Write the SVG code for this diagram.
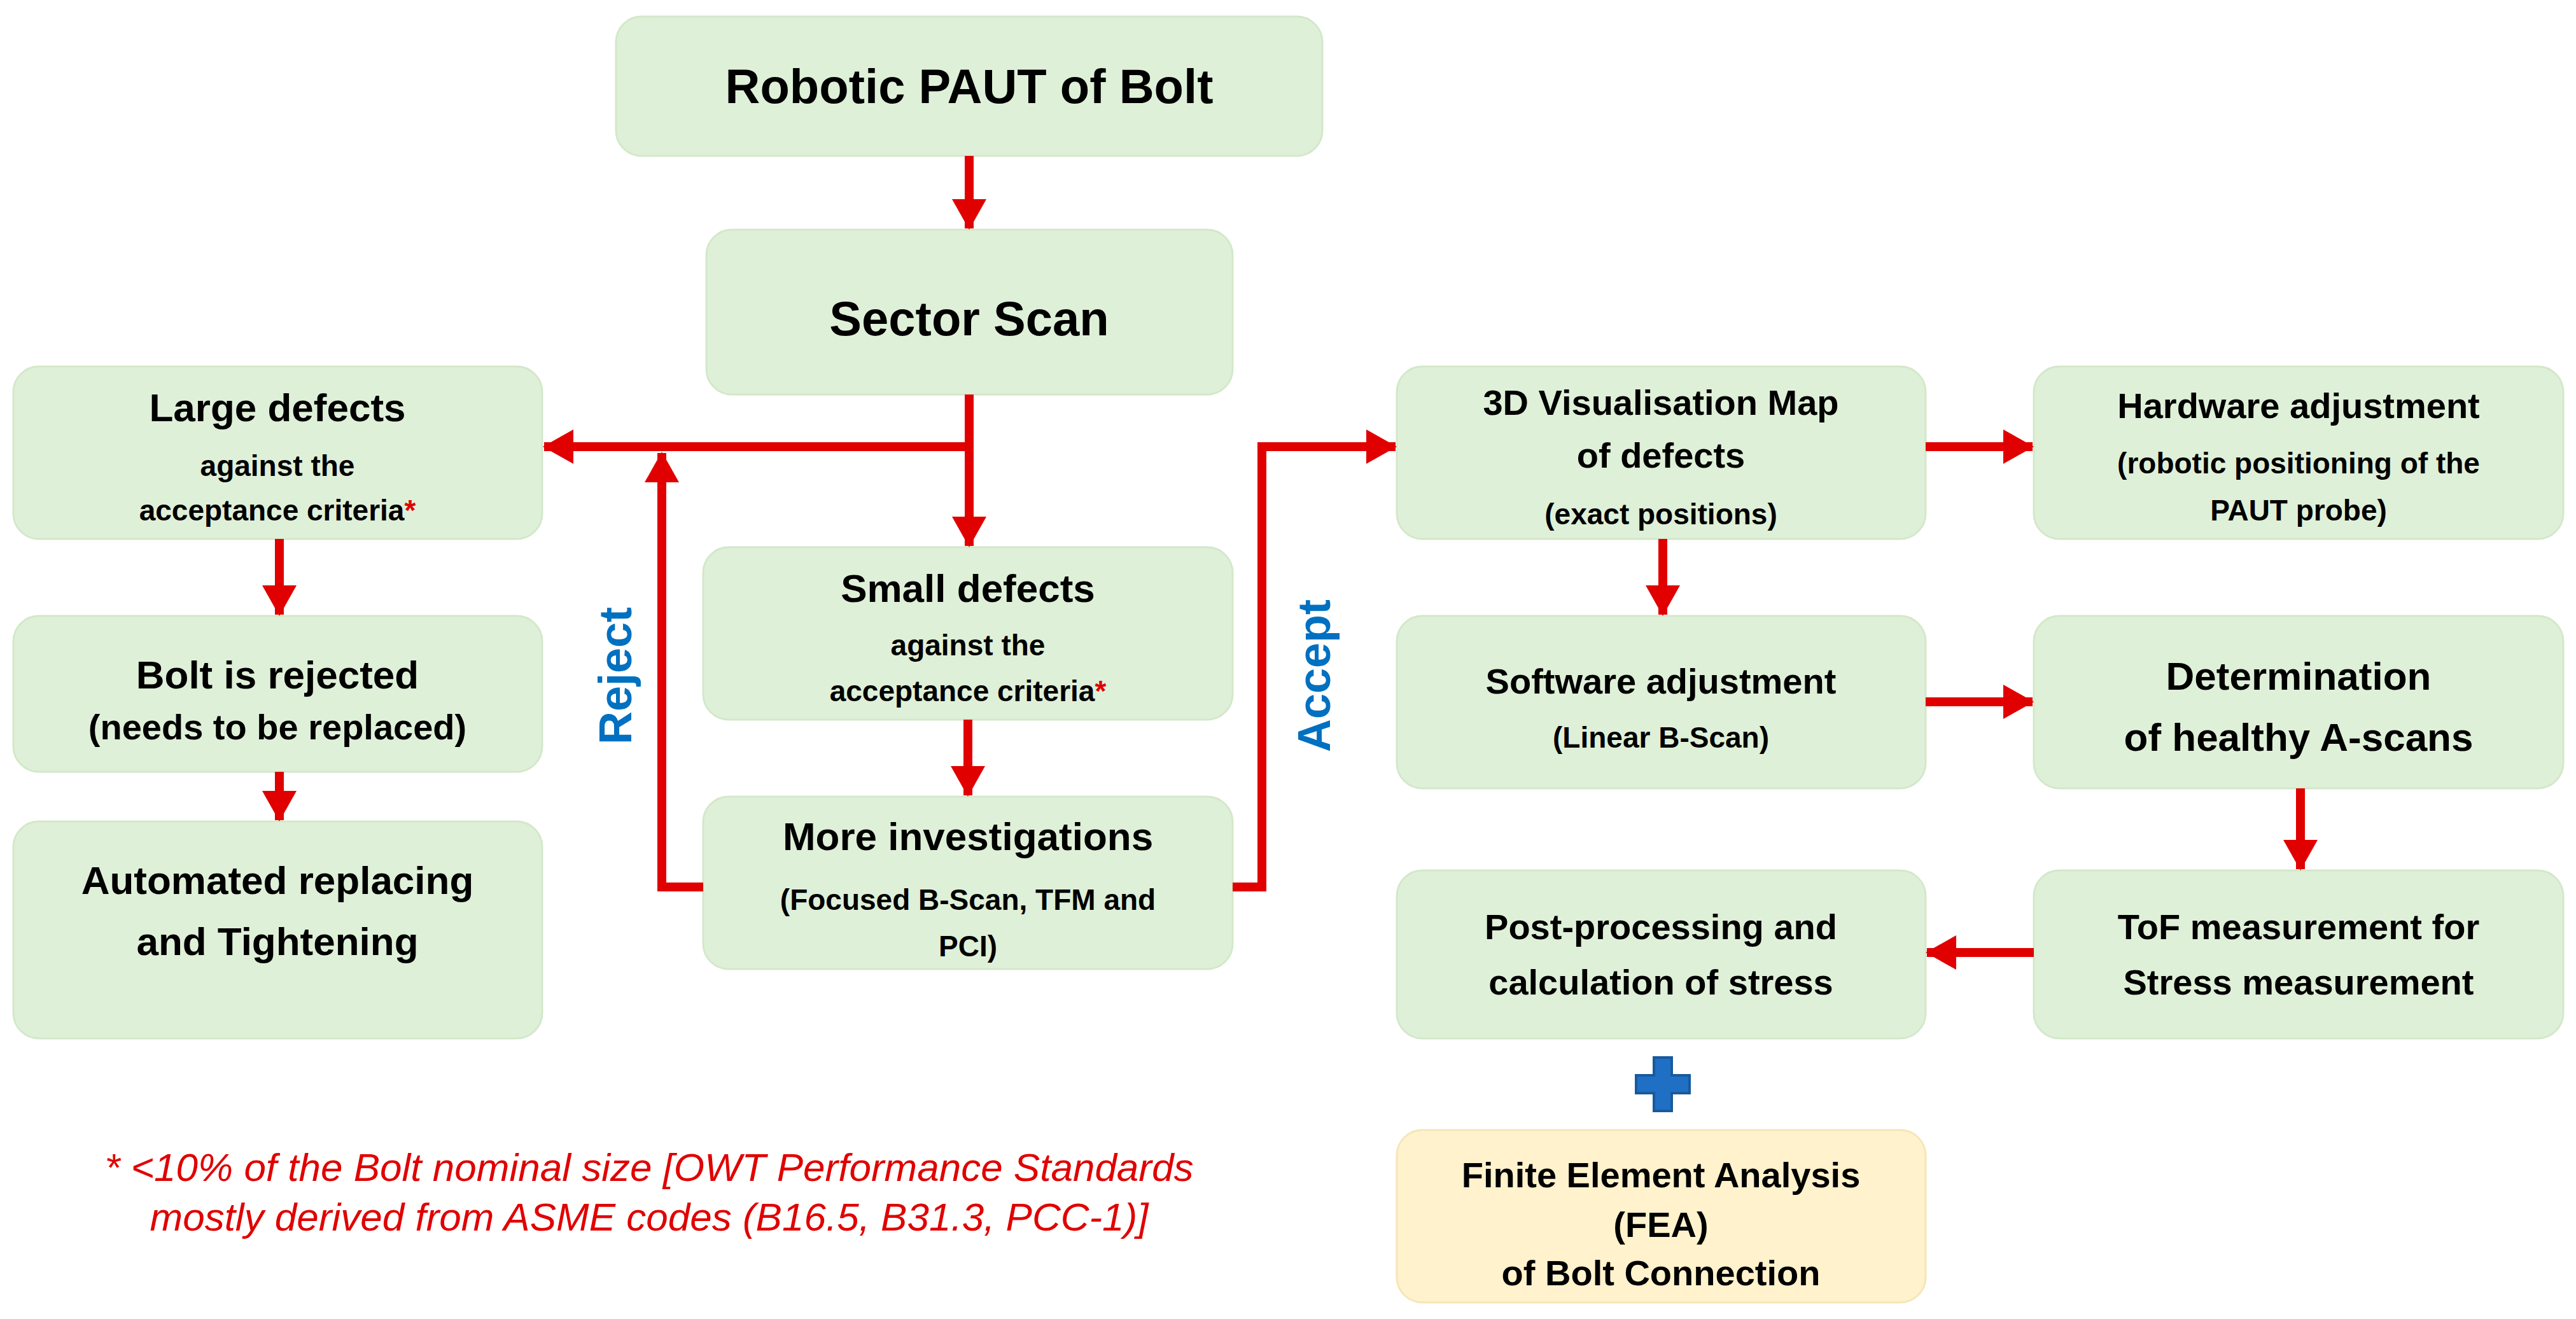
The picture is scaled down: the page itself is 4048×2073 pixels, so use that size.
<svg xmlns="http://www.w3.org/2000/svg" width="4048" height="2073" viewBox="0 0 4048 2073">
<style>
.n{fill:#dff0d8;stroke:#d3e8ca;stroke-width:3}
.f{fill:#fff2cc;stroke:#f5e6b8;stroke-width:3}
text{font-family:"Liberation Sans",Arial,sans-serif;font-weight:bold;fill:#000;text-anchor:middle}
.t{font-size:76px}
.h{font-size:62px}
.s{font-size:46px}
.m{font-size:56px}
.r{fill:#e00000}
.c{stroke:#e00000;stroke-width:14;fill:none}
.lab{fill:#0070c0;font-size:72px}
.fn{font-style:italic;font-weight:normal;fill:#e00000;font-size:62px}
</style>
<defs>
<marker id="a" markerUnits="userSpaceOnUse" markerWidth="48" markerHeight="54" refX="46" refY="27" orient="auto">
<path d="M0,0 L48,27 L0,54 Z" fill="#e00000"/>
</marker>
</defs>
<g id="n1"><rect class="n" x="968" y="26" width="1110" height="219" rx="40"/><text class="t" x="1523" y="162">Robotic PAUT of Bolt</text></g>
<g id="n2"><rect class="n" x="1110" y="361" width="827" height="259" rx="40"/><text class="t" x="1523" y="527">Sector Scan</text></g>
<g id="n3"><rect class="n" x="21" y="576" width="831" height="271" rx="40"/><text class="h" x="436" y="662">Large defects</text><text class="s" x="436" y="748">against the</text><text class="s" x="436" y="818">acceptance criteria<tspan class="r">*</tspan></text></g>
<g id="n4"><rect class="n" x="21" y="968" width="831" height="245" rx="40"/><text class="h" x="436" y="1082">Bolt is rejected</text><text class="m" x="436" y="1162">(needs to be replaced)</text></g>
<g id="n5"><rect class="n" x="21" y="1291" width="831" height="341" rx="40"/><text class="h" x="436" y="1405">Automated replacing</text><text class="h" x="436" y="1501">and Tightening</text></g>
<g id="n6"><rect class="n" x="1105" y="860" width="832" height="271" rx="40"/><text class="h" x="1521" y="946">Small defects</text><text class="s" x="1521" y="1030">against the</text><text class="s" x="1521" y="1102">acceptance criteria<tspan class="r">*</tspan></text></g>
<g id="n7"><rect class="n" x="1105" y="1252" width="832" height="271" rx="40"/><text class="h" x="1521" y="1336">More investigations</text><text class="s" x="1521" y="1430">(Focused B-Scan, TFM and</text><text class="s" x="1521" y="1503">PCI)</text></g>
<g id="n8"><rect class="n" x="2195" y="576" width="831" height="271" rx="40"/><text class="m" x="2610" y="652">3D Visualisation Map</text><text class="m" x="2610" y="735">of defects</text><text class="s" x="2610" y="824">(exact positions)</text></g>
<g id="n9"><rect class="n" x="3196" y="576" width="832" height="271" rx="40"/><text class="m" x="3612" y="657">Hardware adjustment</text><text class="s" x="3612" y="744">(robotic positioning of the</text><text class="s" x="3612" y="818">PAUT probe)</text></g>
<g id="n10"><rect class="n" x="2195" y="968" width="831" height="271" rx="40"/><text class="m" x="2610" y="1090">Software adjustment</text><text class="s" x="2610" y="1175">(Linear B-Scan)</text></g>
<g id="n11"><rect class="n" x="3196" y="968" width="832" height="271" rx="40"/><text class="h" x="3612" y="1084">Determination</text><text class="h" x="3612" y="1180">of healthy A-scans</text></g>
<g id="n12"><rect class="n" x="2195" y="1368" width="831" height="264" rx="40"/><text class="m" x="2610" y="1476">Post-processing and</text><text class="m" x="2610" y="1563">calculation of stress</text></g>
<g id="n13"><rect class="n" x="3196" y="1368" width="832" height="264" rx="40"/><text class="m" x="3612" y="1476">ToF measurement for</text><text class="m" x="3612" y="1563">Stress measurement</text></g>
<g id="n14"><rect class="f" x="2195" y="1776" width="831" height="271" rx="40"/><text class="m" x="2610" y="1866">Finite Element Analysis</text><text class="m" x="2610" y="1944">(FEA)</text><text class="m" x="2610" y="2020">of Bolt Connection</text></g>
<g id="plus"><path d="M2599,1662 h28 v28 h28 v28 h-28 v28 h-28 v-28 h-28 v-28 h28 Z" fill="#1f6fc5" stroke="#175a9e" stroke-width="4"/></g>
<g id="connectors">
<path class="c" d="M1523,245 V359" marker-end="url(#a)"/>
<path class="c" d="M1523,620 V858" marker-end="url(#a)"/>
<path class="c" d="M1523,702 H855" marker-end="url(#a)"/>
<path class="c" d="M1105,1394 H1040 V712" marker-end="url(#a)"/>
<path class="c" d="M1937,1394 H1983 V702 H2193" marker-end="url(#a)"/>
<path class="c" d="M1521,1131 V1250" marker-end="url(#a)"/>
<path class="c" d="M439,847 V966" marker-end="url(#a)"/>
<path class="c" d="M439,1213 V1289" marker-end="url(#a)"/>
<path class="c" d="M3026,702 H3194" marker-end="url(#a)"/>
<path class="c" d="M2613,847 V966" marker-end="url(#a)"/>
<path class="c" d="M3026,1103 H3194" marker-end="url(#a)"/>
<path class="c" d="M3615,1239 V1366" marker-end="url(#a)"/>
<path class="c" d="M3196,1497 H3028" marker-end="url(#a)"/>
</g>
<text class="lab" transform="translate(992,1062) rotate(-90)">Reject</text>
<text class="lab" transform="translate(2090,1062) rotate(-90)">Accept</text>
<text class="fn" x="1020" y="1856">* &lt;10% of the Bolt nominal size [OWT Performance Standards</text>
<text class="fn" x="1020" y="1934">mostly derived from ASME codes (B16.5, B31.3, PCC-1)]</text>
</svg>
